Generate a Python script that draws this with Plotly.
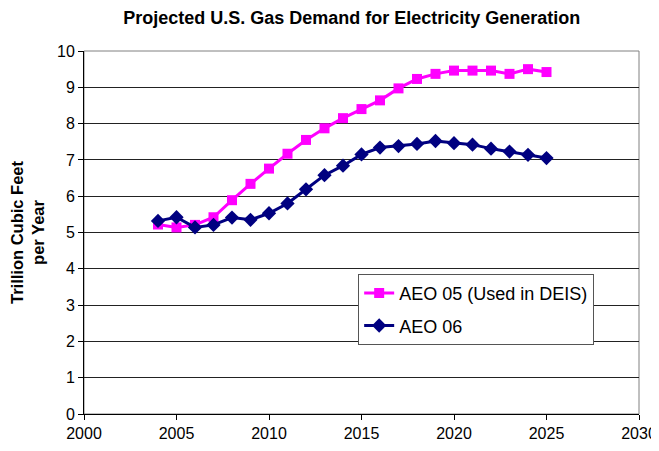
import plotly.graph_objects as go

years = list(range(2004, 2026))
aeo05 = [5.22, 5.14, 5.21, 5.42, 5.89, 6.34, 6.76, 7.17, 7.55, 7.87, 8.15, 8.40,
         8.64, 8.97, 9.23, 9.37, 9.46, 9.46, 9.46, 9.37, 9.50, 9.42]
aeo06 = [5.32, 5.42, 5.14, 5.21, 5.41, 5.35, 5.53, 5.80, 6.19, 6.58, 6.84, 7.15,
         7.34, 7.38, 7.44, 7.52, 7.46, 7.42, 7.31, 7.23, 7.14, 7.05]
x_ticks = [2000, 2005, 2010, 2015, 2020, 2025, 2030]
y_ticks = list(range(0, 11))

fig = go.Figure()
fig.add_trace(go.Scatter(
    x=years, y=aeo05, mode="lines+markers", name="AEO 05 (Used in DEIS)",
    line=dict(color="#FF00FF", width=3),
    marker=dict(symbol="square", size=10, color="#FF00FF"),
    legendgroup="a"))
fig.add_trace(go.Scatter(
    x=years, y=aeo06, mode="lines+markers", name="AEO 06",
    line=dict(color="#000080", width=3),
    marker=dict(symbol="diamond", size=11, color="#000080"),
    legendgroup="b"))

font = "Arial, Liberation Sans, sans-serif"
fig.update_layout(
    width=651, height=443,
    margin=dict(l=76, r=20, t=43, b=37, autoexpand=False),
    paper_bgcolor="white", plot_bgcolor="white",
    font=dict(family=font, color="black", size=16),
    title=dict(text="<b>Projected U.S. Gas Demand for Electricity Generation</b>",
               x=0.528, xanchor="center", y=0.977, yanchor="middle",
               font=dict(size=18, family=font)),
    showlegend=True,
    legend=dict(x=0.494, y=0.386, xanchor="left", yanchor="top",
                bgcolor="white", bordercolor="#555555", borderwidth=1,
                font=dict(size=18, family=font), tracegroupgap=6,
                itemwidth=30),
    shapes=[dict(type="rect", xref="paper", yref="paper", x0=0, x1=1, y0=0, y1=1,
                 line=dict(color="#808080", width=1), layer="below")],
)
fig.update_xaxes(range=[2000, 2030], tickvals=x_ticks, ticks="outside", ticklen=5,
                 tickcolor="black", showgrid=False, showline=True, linecolor="black",
                 linewidth=1, zeroline=False, tickfont=dict(size=16), automargin=False)
fig.update_yaxes(range=[0, 10], tickvals=y_ticks, ticks="outside", ticklen=5,
                 tickcolor="black", showgrid=True, gridcolor="#222222", gridwidth=1,
                 showline=True, linecolor="black", linewidth=1, zeroline=False,
                 tickfont=dict(size=16), automargin=False,
                 title=dict(text="<b>Trillion Cubic Feet<br>per Year</b>",
                            font=dict(size=16.5), standoff=9))

fig.write_html("out.html")
